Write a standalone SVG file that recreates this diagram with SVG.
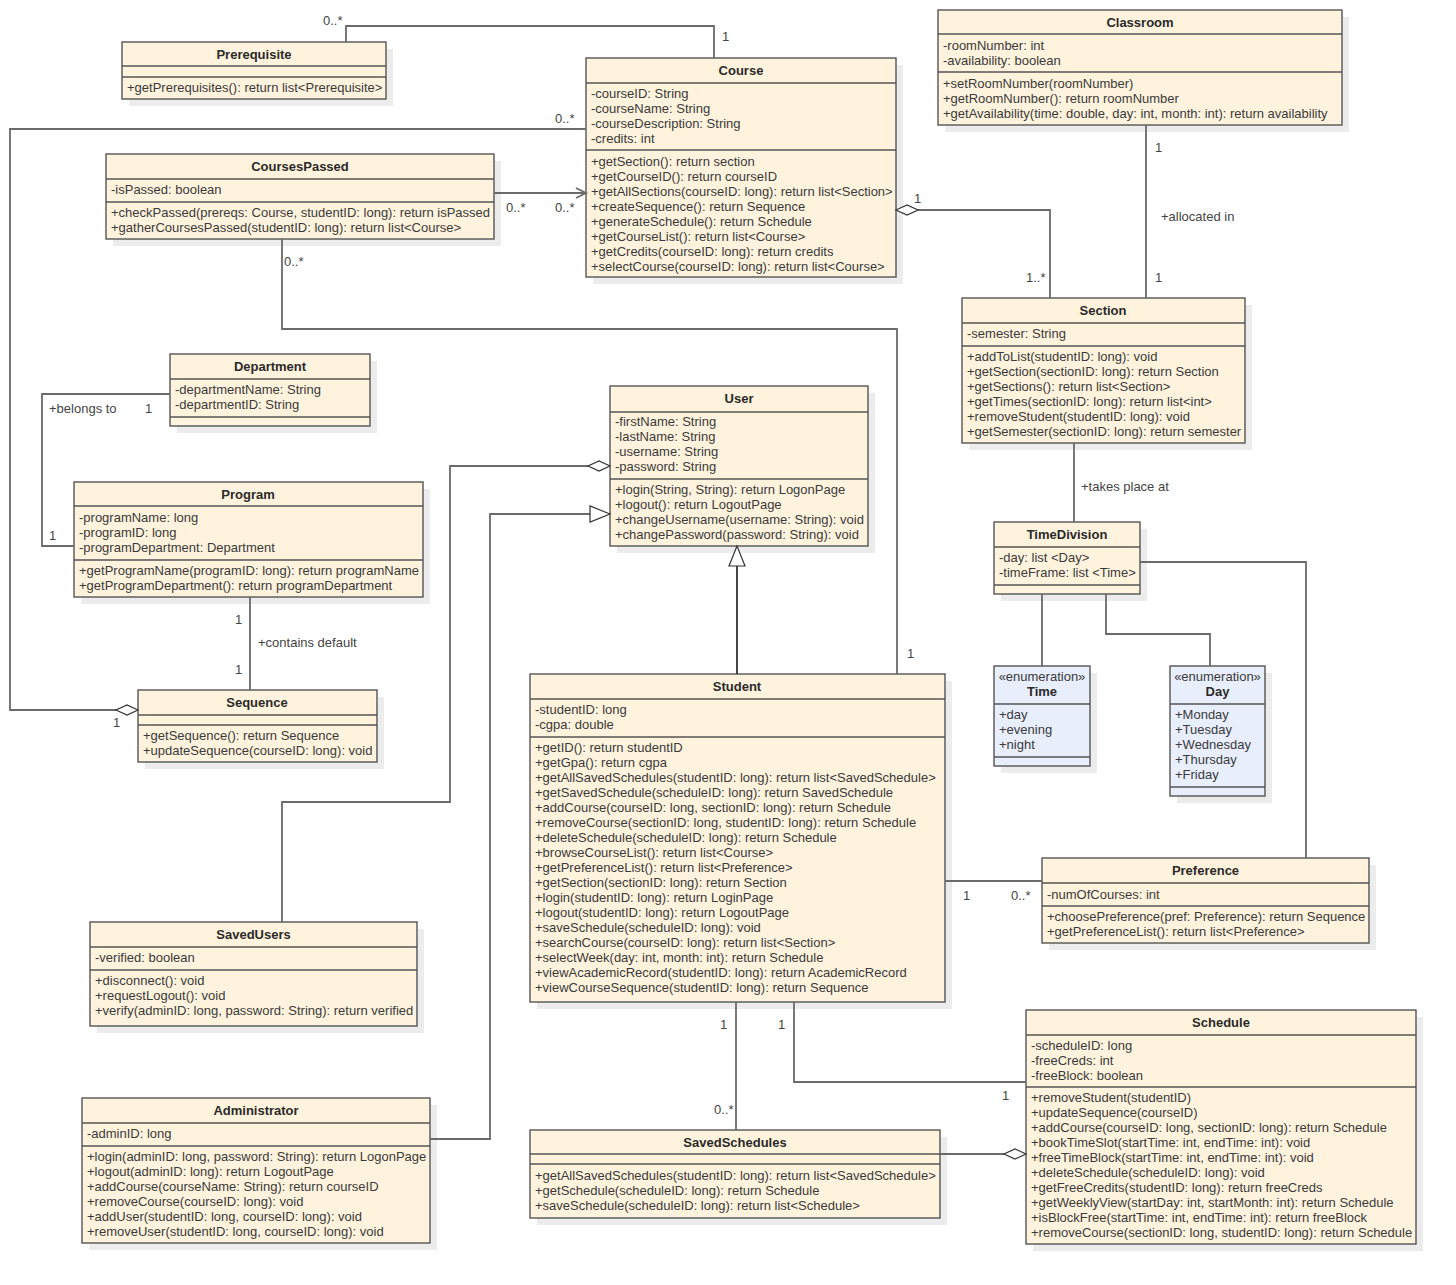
<svg xmlns="http://www.w3.org/2000/svg" width="1456" height="1285" viewBox="0 0 1456 1285">
  <style>
    .sh { fill: #ececec; }
    .box { fill: #fff3dd; stroke: #555; stroke-width: 1.4; }
    .enum { fill: #e8eefc; stroke: #555; stroke-width: 1.4; }
    .sep { stroke: #555; stroke-width: 1.4; }
    text { font-family: "Liberation Sans", Arial, sans-serif; font-size: 13px; fill: #3a3a3a; }
    .ti { font-weight: bold; fill: #2a2a2a; text-anchor: middle; }
    .st { text-anchor: middle; }
    .lb { fill: #444; }
    .c { fill: none; stroke: #6a6a6a; stroke-width: 1.8; }
    .dia { fill: #fff; stroke: #333; stroke-width: 1.2; }
    .tri { fill: #fff; stroke: #333; stroke-width: 1.2; }
    .gen { fill: none; stroke: #333; stroke-width: 1.8; }
  </style>

  <!-- drop shadows behind every class box -->
  <g id="shadows">
    <rect class="sh" x="129" y="49" width="264" height="57"/>
    <rect class="sh" x="593" y="65" width="310" height="219"/>
    <rect class="sh" x="945" y="17" width="404" height="115"/>
    <rect class="sh" x="113" y="161" width="388" height="85"/>
    <rect class="sh" x="969" y="305" width="283" height="145"/>
    <rect class="sh" x="177" y="361" width="200" height="72"/>
    <rect class="sh" x="81" y="489" width="349" height="115"/>
    <rect class="sh" x="145" y="697" width="239" height="72"/>
    <rect class="sh" x="617" y="393" width="258" height="160"/>
    <rect class="sh" x="1001" y="529" width="146" height="72"/>
    <rect class="sh" x="1001" y="673" width="96" height="100"/>
    <rect class="sh" x="1177" y="673" width="95" height="130"/>
    <rect class="sh" x="537" y="681" width="415" height="328"/>
    <rect class="sh" x="1049" y="865" width="327" height="85"/>
    <rect class="sh" x="97" y="929" width="327" height="104"/>
    <rect class="sh" x="89" y="1105" width="348" height="145"/>
    <rect class="sh" x="537" y="1137" width="410" height="88"/>
    <rect class="sh" x="1033" y="1017" width="390" height="234"/>
  </g>

  <!-- Prerequisite -->
  <g id="prerequisite">
    <rect class="box" x="122" y="42" width="264" height="57"/>
    <line class="sep" x1="122" y1="66" x2="386" y2="66"/>
    <line class="sep" x1="122" y1="77" x2="386" y2="77"/>
    <text class="ti" x="254" y="58.5">Prerequisite</text>
    <text x="127" y="91.5">+getPrerequisites(): return list&lt;Prerequisite&gt;</text>
  </g>

  <!-- Course -->
  <g id="course">
    <rect class="box" x="586" y="58" width="310" height="219"/>
    <line class="sep" x1="586" y1="83" x2="896" y2="83"/>
    <line class="sep" x1="586" y1="150" x2="896" y2="150"/>
    <text class="ti" x="741" y="74.5">Course</text>
    <text x="591" y="97.5">-courseID: String</text>
    <text x="591" y="112.5">-courseName: String</text>
    <text x="591" y="127.5">-courseDescription: String</text>
    <text x="591" y="142.5">-credits: int</text>
    <text x="591" y="165.5">+getSection(): return section</text>
    <text x="591" y="180.5">+getCourseID(): return courseID</text>
    <text x="591" y="195.5">+getAllSections(courseID: long): return list&lt;Section&gt;</text>
    <text x="591" y="210.5">+createSequence(): return Sequence</text>
    <text x="591" y="225.5">+generateSchedule(): return Schedule</text>
    <text x="591" y="240.5">+getCourseList(): return list&lt;Course&gt;</text>
    <text x="591" y="255.5">+getCredits(courseID: long): return credits</text>
    <text x="591" y="270.5">+selectCourse(courseID: long): return list&lt;Course&gt;</text>
  </g>

  <!-- Classroom -->
  <g id="classroom">
    <rect class="box" x="938" y="10" width="404" height="115"/>
    <line class="sep" x1="938" y1="34" x2="1342" y2="34"/>
    <line class="sep" x1="938" y1="72" x2="1342" y2="72"/>
    <text class="ti" x="1140" y="26.5">Classroom</text>
    <text x="943" y="49.5">-roomNumber: int</text>
    <text x="943" y="64.5">-availability: boolean</text>
    <text x="943" y="87.5">+setRoomNumber(roomNumber)</text>
    <text x="943" y="102.5">+getRoomNumber(): return roomNumber</text>
    <text x="943" y="117.5">+getAvailability(time: double, day: int, month: int): return availability</text>
  </g>

  <!-- CoursesPassed -->
  <g id="coursespassed">
    <rect class="box" x="106" y="154" width="388" height="85"/>
    <line class="sep" x1="106" y1="179" x2="494" y2="179"/>
    <line class="sep" x1="106" y1="202" x2="494" y2="202"/>
    <text class="ti" x="300" y="170.5">CoursesPassed</text>
    <text x="111" y="193.5">-isPassed: boolean</text>
    <text x="111" y="216.5">+checkPassed(prereqs: Course, studentID: long): return isPassed</text>
    <text x="111" y="231.5">+gatherCoursesPassed(studentID: long): return list&lt;Course&gt;</text>
  </g>

  <!-- Section -->
  <g id="section">
    <rect class="box" x="962" y="298" width="283" height="145"/>
    <line class="sep" x1="962" y1="323" x2="1245" y2="323"/>
    <line class="sep" x1="962" y1="346" x2="1245" y2="346"/>
    <text class="ti" x="1103" y="314.5">Section</text>
    <text x="967" y="337.5">-semester: String</text>
    <text x="967" y="360.5">+addToList(studentID: long): void</text>
    <text x="967" y="375.5">+getSection(sectionID: long): return Section</text>
    <text x="967" y="390.5">+getSections(): return list&lt;Section&gt;</text>
    <text x="967" y="405.5">+getTimes(sectionID: long): return list&lt;int&gt;</text>
    <text x="967" y="420.5">+removeStudent(studentID: long): void</text>
    <text x="967" y="435.5">+getSemester(sectionID: long): return semester</text>
  </g>

  <!-- Department -->
  <g id="department">
    <rect class="box" x="170" y="354" width="200" height="72"/>
    <line class="sep" x1="170" y1="379" x2="370" y2="379"/>
    <line class="sep" x1="170" y1="417" x2="370" y2="417"/>
    <text class="ti" x="270" y="370.5">Department</text>
    <text x="175" y="393.5">-departmentName: String</text>
    <text x="175" y="408.5">-departmentID: String</text>
  </g>

  <!-- Program -->
  <g id="program">
    <rect class="box" x="74" y="482" width="349" height="115"/>
    <line class="sep" x1="74" y1="506" x2="423" y2="506"/>
    <line class="sep" x1="74" y1="560" x2="423" y2="560"/>
    <text class="ti" x="248" y="498.5">Program</text>
    <text x="79" y="521.5">-programName: long</text>
    <text x="79" y="536.5">-programID: long</text>
    <text x="79" y="551.5">-programDepartment: Department</text>
    <text x="79" y="574.5">+getProgramName(programID: long): return programName</text>
    <text x="79" y="589.5">+getProgramDepartment(): return programDepartment</text>
  </g>

  <!-- Sequence -->
  <g id="sequence">
    <rect class="box" x="138" y="690" width="239" height="72"/>
    <line class="sep" x1="138" y1="715" x2="377" y2="715"/>
    <line class="sep" x1="138" y1="725" x2="377" y2="725"/>
    <text class="ti" x="257" y="706.5">Sequence</text>
    <text x="143" y="739.5">+getSequence(): return Sequence</text>
    <text x="143" y="754.5">+updateSequence(courseID: long): void</text>
  </g>

  <!-- User -->
  <g id="user">
    <rect class="box" x="610" y="386" width="258" height="160"/>
    <line class="sep" x1="610" y1="412" x2="868" y2="412"/>
    <line class="sep" x1="610" y1="479" x2="868" y2="479"/>
    <text class="ti" x="739" y="402.5">User</text>
    <text x="615" y="425.5">-firstName: String</text>
    <text x="615" y="440.5">-lastName: String</text>
    <text x="615" y="455.5">-username: String</text>
    <text x="615" y="470.5">-password: String</text>
    <text x="615" y="493.5">+login(String, String): return LogonPage</text>
    <text x="615" y="508.5">+logout(): return LogoutPage</text>
    <text x="615" y="523.5">+changeUsername(username: String): void</text>
    <text x="615" y="538.5">+changePassword(password: String): void</text>
  </g>

  <!-- TimeDivision -->
  <g id="timedivision">
    <rect class="box" x="994" y="522" width="146" height="72"/>
    <line class="sep" x1="994" y1="547" x2="1140" y2="547"/>
    <line class="sep" x1="994" y1="585" x2="1140" y2="585"/>
    <text class="ti" x="1067" y="538.5">TimeDivision</text>
    <text x="999" y="561.5">-day: list &lt;Day&gt;</text>
    <text x="999" y="576.5">-timeFrame: list &lt;Time&gt;</text>
  </g>

  <!-- Time enumeration -->
  <g id="time">
    <rect class="enum" x="994" y="666" width="96" height="100"/>
    <line class="sep" x1="994" y1="704" x2="1090" y2="704"/>
    <line class="sep" x1="994" y1="757" x2="1090" y2="757"/>
    <text class="st" x="1042" y="680.5">«enumeration»</text>
    <text class="ti" x="1042" y="695.5">Time</text>
    <text x="999" y="718.5">+day</text>
    <text x="999" y="733.5">+evening</text>
    <text x="999" y="748.5">+night</text>
  </g>

  <!-- Day enumeration -->
  <g id="day">
    <rect class="enum" x="1170" y="666" width="95" height="130"/>
    <line class="sep" x1="1170" y1="704" x2="1265" y2="704"/>
    <line class="sep" x1="1170" y1="787" x2="1265" y2="787"/>
    <text class="st" x="1217.5" y="680.5">«enumeration»</text>
    <text class="ti" x="1217.5" y="695.5">Day</text>
    <text x="1175" y="718.5">+Monday</text>
    <text x="1175" y="733.5">+Tuesday</text>
    <text x="1175" y="748.5">+Wednesday</text>
    <text x="1175" y="763.5">+Thursday</text>
    <text x="1175" y="778.5">+Friday</text>
  </g>

  <!-- Student -->
  <g id="student">
    <rect class="box" x="530" y="674" width="415" height="328"/>
    <line class="sep" x1="530" y1="699" x2="945" y2="699"/>
    <line class="sep" x1="530" y1="737" x2="945" y2="737"/>
    <text class="ti" x="737" y="690.5">Student</text>
    <text x="535" y="713.5">-studentID: long</text>
    <text x="535" y="728.5">-cgpa: double</text>
    <text x="535" y="751.5">+getID(): return studentID</text>
    <text x="535" y="766.5">+getGpa(): return cgpa</text>
    <text x="535" y="781.5">+getAllSavedSchedules(studentID: long): return list&lt;SavedSchedule&gt;</text>
    <text x="535" y="796.5">+getSavedSchedule(scheduleID: long): return SavedSchedule</text>
    <text x="535" y="811.5">+addCourse(courseID: long, sectionID: long): return Schedule</text>
    <text x="535" y="826.5">+removeCourse(sectionID: long, studentID: long): return Schedule</text>
    <text x="535" y="841.5">+deleteSchedule(scheduleID: long): return Schedule</text>
    <text x="535" y="856.5">+browseCourseList(): return list&lt;Course&gt;</text>
    <text x="535" y="871.5">+getPreferenceList(): return list&lt;Preference&gt;</text>
    <text x="535" y="886.5">+getSection(sectionID: long): return Section</text>
    <text x="535" y="901.5">+login(studentID: long): return LoginPage</text>
    <text x="535" y="916.5">+logout(studentID: long): return LogoutPage</text>
    <text x="535" y="931.5">+saveSchedule(scheduleID: long): void</text>
    <text x="535" y="946.5">+searchCourse(courseID: long): return list&lt;Section&gt;</text>
    <text x="535" y="961.5">+selectWeek(day: int, month: int): return Schedule</text>
    <text x="535" y="976.5">+viewAcademicRecord(studentID: long): return AcademicRecord</text>
    <text x="535" y="991.5">+viewCourseSequence(studentID: long): return Sequence</text>
  </g>

  <!-- Preference -->
  <g id="preference">
    <rect class="box" x="1042" y="858" width="327" height="85"/>
    <line class="sep" x1="1042" y1="883" x2="1369" y2="883"/>
    <line class="sep" x1="1042" y1="906" x2="1369" y2="906"/>
    <text class="ti" x="1205.5" y="874.5">Preference</text>
    <text x="1047" y="898.5">-numOfCourses: int</text>
    <text x="1047" y="920.5">+choosePreference(pref: Preference): return Sequence</text>
    <text x="1047" y="935.5">+getPreferenceList(): return list&lt;Preference&gt;</text>
  </g>

  <!-- SavedUsers -->
  <g id="savedusers">
    <rect class="box" x="90" y="922" width="327" height="104"/>
    <line class="sep" x1="90" y1="947" x2="417" y2="947"/>
    <line class="sep" x1="90" y1="970" x2="417" y2="970"/>
    <text class="ti" x="253.5" y="938.5">SavedUsers</text>
    <text x="95" y="961.5">-verified: boolean</text>
    <text x="95" y="984.5">+disconnect(): void</text>
    <text x="95" y="999.5">+requestLogout(): void</text>
    <text x="95" y="1014.5">+verify(adminID: long, password: String): return verified</text>
  </g>

  <!-- Administrator -->
  <g id="administrator">
    <rect class="box" x="82" y="1098" width="348" height="145"/>
    <line class="sep" x1="82" y1="1123" x2="430" y2="1123"/>
    <line class="sep" x1="82" y1="1146" x2="430" y2="1146"/>
    <text class="ti" x="256" y="1114.5">Administrator</text>
    <text x="87" y="1137.5">-adminID: long</text>
    <text x="87" y="1160.5">+login(adminID: long, password: String): return LogonPage</text>
    <text x="87" y="1175.5">+logout(adminID: long): return LogoutPage</text>
    <text x="87" y="1190.5">+addCourse(courseName: String): return courseID</text>
    <text x="87" y="1205.5">+removeCourse(courseID: long): void</text>
    <text x="87" y="1220.5">+addUser(studentID: long, courseID: long): void</text>
    <text x="87" y="1235.5">+removeUser(studentID: long, courseID: long): void</text>
  </g>

  <!-- SavedSchedules -->
  <g id="savedschedules">
    <rect class="box" x="530" y="1130" width="410" height="88"/>
    <line class="sep" x1="530" y1="1154" x2="940" y2="1154"/>
    <line class="sep" x1="530" y1="1164" x2="940" y2="1164"/>
    <text class="ti" x="735" y="1146.5">SavedSchedules</text>
    <text x="535" y="1179.5">+getAllSavedSchedules(studentID: long): return list&lt;SavedSchedule&gt;</text>
    <text x="535" y="1194.5">+getSchedule(scheduleID: long): return Schedule</text>
    <text x="535" y="1209.5">+saveSchedule(scheduleID: long): return list&lt;Schedule&gt;</text>
  </g>

  <!-- Schedule -->
  <g id="schedule">
    <rect class="box" x="1026" y="1010" width="390" height="234"/>
    <line class="sep" x1="1026" y1="1035" x2="1416" y2="1035"/>
    <line class="sep" x1="1026" y1="1087" x2="1416" y2="1087"/>
    <text class="ti" x="1221" y="1026.5">Schedule</text>
    <text x="1031" y="1049.5">-scheduleID: long</text>
    <text x="1031" y="1064.5">-freeCreds: int</text>
    <text x="1031" y="1079.5">-freeBlock: boolean</text>
    <text x="1031" y="1101.5">+removeStudent(studentID)</text>
    <text x="1031" y="1116.5">+updateSequence(courseID)</text>
    <text x="1031" y="1131.5">+addCourse(courseID: long, sectionID: long): return Schedule</text>
    <text x="1031" y="1146.5">+bookTimeSlot(startTime: int, endTime: int): void</text>
    <text x="1031" y="1161.5">+freeTimeBlock(startTime: int, endTime: int): void</text>
    <text x="1031" y="1176.5">+deleteSchedule(scheduleID: long): void</text>
    <text x="1031" y="1191.5">+getFreeCredits(studentID: long): return freeCreds</text>
    <text x="1031" y="1206.5">+getWeeklyView(startDay: int, startMonth: int): return Schedule</text>
    <text x="1031" y="1221.5">+isBlockFree(startTime: int, endTime: int): return freeBlock</text>
    <text x="1031" y="1236.5">+removeCourse(sectionID: long, studentID: long): return Schedule</text>
  </g>

  <!-- connectors: associations, aggregations, generalizations and their end labels -->
  <g id="connectors">
    <path class="c" d="M346 42 V26 H714 V58"/>
    <path class="c" d="M586 129 H10 V710 H117"/>
    <path class="dia" d="M138 710 L127 705 L116 710 L127 715 Z"/>
    <path class="c" d="M494 193 H586"/>
    <path class="c" d="M576 188 L586 193 L576 198"/>
    <path class="c" d="M918 210 H1050 V298"/>
    <path class="dia" d="M896 210 L907 205 L918 210 L907 215 Z"/>
    <path class="c" d="M1146 125 V298"/>
    <path class="c" d="M282 239 V329 H897 V674"/>
    <path class="c" d="M170 394 H42 V546 H74"/>
    <path class="c" d="M250 597 V690"/>
    <path class="c" d="M588 466 H450 V802 H282 V922"/>
    <path class="dia" d="M610 466 L599 461 L588 466 L599 471 Z"/>
    <path class="c" d="M430 1139 H490 V514 H590"/>
    <path class="tri" d="M610 514 L590 506 L590 522 Z"/>
    <path class="gen" d="M737 674 V566"/>
    <path class="tri" d="M737 546 L729 566 L745 566 Z"/>
    <path class="c" d="M1074 443 V522"/>
    <path class="c" d="M1042 594 V666"/>
    <path class="c" d="M1106 594 V634 H1210 V666"/>
    <path class="c" d="M1140 562 H1306 V858"/>
    <path class="c" d="M945 881 H1042"/>
    <path class="c" d="M736 1002 V1130"/>
    <path class="c" d="M794 1002 V1082 H1026"/>
    <path class="c" d="M940 1154 H1004"/>
    <path class="dia" d="M1026 1154 L1015 1149 L1004 1154 L1015 1159 Z"/>

    <text class="lb" x="323" y="25">0..*</text>
    <text class="lb" x="722" y="41">1</text>
    <text class="lb" x="555" y="123">0..*</text>
    <text class="lb" x="914" y="203">1</text>
    <text class="lb" x="1026" y="282">1..*</text>
    <text class="lb" x="1155" y="152">1</text>
    <text class="lb" x="1161" y="221">+allocated in</text>
    <text class="lb" x="1155" y="282">1</text>
    <text class="lb" x="506" y="212">0..*</text>
    <text class="lb" x="555" y="212">0..*</text>
    <text class="lb" x="284" y="266">0..*</text>
    <text class="lb" x="907" y="658">1</text>
    <text class="lb" x="49" y="413">+belongs to</text>
    <text class="lb" x="145" y="413">1</text>
    <text class="lb" x="49" y="540">1</text>
    <text class="lb" x="235" y="624">1</text>
    <text class="lb" x="258" y="647">+contains default</text>
    <text class="lb" x="235" y="674">1</text>
    <text class="lb" x="113" y="727">1</text>
    <text class="lb" x="1081" y="491">+takes place at</text>
    <text class="lb" x="963" y="900">1</text>
    <text class="lb" x="1011" y="900">0..*</text>
    <text class="lb" x="720" y="1029">1</text>
    <text class="lb" x="778" y="1029">1</text>
    <text class="lb" x="714" y="1114">0..*</text>
    <text class="lb" x="1002" y="1100">1</text>
  </g>
</svg>
